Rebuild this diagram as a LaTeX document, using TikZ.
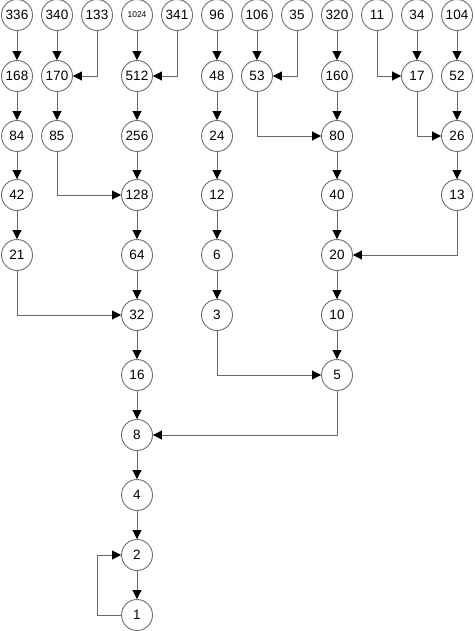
\documentclass[tikz,border=0pt]{standalone}
\usepackage{fontspec}
\setmainfont{Liberation Sans}
\usetikzlibrary{arrows.meta}
\definecolor{lc}{RGB}{105,105,105}
\definecolor{cc}{RGB}{110,110,110}
\tikzset{
  nd/.style={circle, draw=cc, line width=0.9pt, minimum size=31pt, inner sep=0pt, fill=white,
    font=\fontsize{13.5}{15}\selectfont},
  small/.style={font=\fontsize{8.5}{10}\selectfont},
  ar/.style={draw=lc, line width=0.9pt, -{Triangle[length=9pt,width=9pt,color=black]}}
}
\begin{document}
\begin{tikzpicture}[x=1pt,y=-1pt]
\useasboundingbox (0,0) rectangle (474,631);
% column 0
\node[nd] (n336) at (17,15) {336};
\node[nd] (n168) at (17,76) {168};
\node[nd] (n84) at (17,136) {84};
\node[nd] (n42) at (17,195) {42};
\node[nd] (n21) at (17,255) {21};
% column 1
\node[nd] (n340) at (57,15) {340};
\node[nd] (n170) at (57,76) {170};
\node[nd] (n85) at (57,136) {85};
% column 2
\node[nd] (n133) at (97,15) {133};
% column 3
\node[nd,small] (n1024) at (137,15) {1024};
\node[nd] (n512) at (137,76) {512};
\node[nd] (n256) at (137,136) {256};
\node[nd] (n128) at (137,195) {128};
\node[nd] (n64) at (137,255) {64};
\node[nd] (n32) at (137,315) {32};
\node[nd] (n16) at (137,375) {16};
\node[nd] (n8) at (137,435) {8};
\node[nd] (n4) at (137,495) {4};
\node[nd] (n2) at (137,555) {2};
\node[nd] (n1) at (137,615) {1};
% column 4
\node[nd] (n341) at (177,15) {341};
% column 5
\node[nd] (n96) at (217,15) {96};
\node[nd] (n48) at (217,76) {48};
\node[nd] (n24) at (217,136) {24};
\node[nd] (n12) at (217,195) {12};
\node[nd] (n6) at (217,255) {6};
\node[nd] (n3) at (217,315) {3};
% column 6
\node[nd] (n106) at (257,15) {106};
\node[nd] (n53) at (257,76) {53};
% column 7
\node[nd] (n35) at (297,15) {35};
% column 8
\node[nd] (n320) at (337,15) {320};
\node[nd] (n160) at (337,76) {160};
\node[nd] (n80) at (337,136) {80};
\node[nd] (n40) at (337,195) {40};
\node[nd] (n20) at (337,255) {20};
\node[nd] (n10) at (337,315) {10};
\node[nd] (n5) at (337,375) {5};
% column 9
\node[nd] (n11) at (377,15) {11};
% column 10
\node[nd] (n34) at (417,15) {34};
\node[nd] (n17) at (417,76) {17};
% column 11
\node[nd] (n104) at (457,15) {104};
\node[nd] (n52) at (457,76) {52};
\node[nd] (n26) at (457,136) {26};
\node[nd] (n13) at (457,195) {13};
\coordinate (c1) at (97,615);
% edges
\draw[ar] (n336) -- (n168);
\draw[ar] (n168) -- (n84);
\draw[ar] (n84) -- (n42);
\draw[ar] (n42) -- (n21);
\draw[ar] (n21) |- (n32);
\draw[ar] (n340) -- (n170);
\draw[ar] (n133) |- (n170);
\draw[ar] (n170) -- (n85);
\draw[ar] (n85) |- (n128);
\draw[ar] (n1024) -- (n512);
\draw[ar] (n341) |- (n512);
\draw[ar] (n512) -- (n256);
\draw[ar] (n256) -- (n128);
\draw[ar] (n128) -- (n64);
\draw[ar] (n64) -- (n32);
\draw[ar] (n32) -- (n16);
\draw[ar] (n16) -- (n8);
\draw[ar] (n8) -- (n4);
\draw[ar] (n4) -- (n2);
\draw[ar] (n2) -- (n1);
\draw[ar] (n1) -- (c1) |- (n2);
\draw[ar] (n96) -- (n48);
\draw[ar] (n48) -- (n24);
\draw[ar] (n24) -- (n12);
\draw[ar] (n12) -- (n6);
\draw[ar] (n6) -- (n3);
\draw[ar] (n3) |- (n5);
\draw[ar] (n106) -- (n53);
\draw[ar] (n35) |- (n53);
\draw[ar] (n53) |- (n80);
\draw[ar] (n320) -- (n160);
\draw[ar] (n160) -- (n80);
\draw[ar] (n80) -- (n40);
\draw[ar] (n40) -- (n20);
\draw[ar] (n20) -- (n10);
\draw[ar] (n10) -- (n5);
\draw[ar] (n5) |- (n8);
\draw[ar] (n11) |- (n17);
\draw[ar] (n34) -- (n17);
\draw[ar] (n17) |- (n26);
\draw[ar] (n104) -- (n52);
\draw[ar] (n52) -- (n26);
\draw[ar] (n26) -- (n13);
\draw[ar] (n13) |- (n20);
\end{tikzpicture}
\end{document}
